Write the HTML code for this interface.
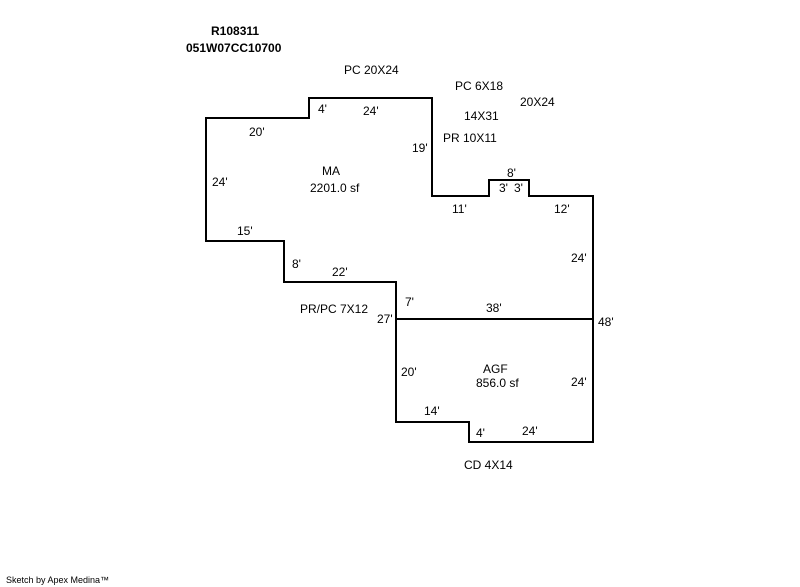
<!DOCTYPE html>
<html><head><style>
html,body{margin:0;padding:0;background:#fff;}
svg{display:block;}
text{font-family:"Liberation Sans",Arial,sans-serif;font-size:12px;fill:#000;}
</style></head><body>
<svg width="800" height="587" viewBox="0 0 800 587" xmlns="http://www.w3.org/2000/svg">
<polygon points="206,118 309,118 309,98 432,98 432,196 489,196 489,180 529,180 529,196 593,196 593,442 469,442 469,422 396,422 396,282 284,282 284,241 206,241" fill="none" stroke="#000" stroke-width="2"/>
<line x1="396" y1="319" x2="593" y2="319" stroke="#000" stroke-width="2"/>
<text x="211" y="35" style="font-weight:bold">R108311</text>
<text x="186" y="52" style="font-weight:bold">051W07CC10700</text>
<text x="344" y="74">PC 20X24</text>
<text x="455" y="90">PC 6X18</text>
<text x="520" y="106">20X24</text>
<text x="464" y="120">14X31</text>
<text x="443" y="142">PR 10X11</text>
<text x="318" y="113">4'</text>
<text x="363" y="115">24'</text>
<text x="249" y="136">20'</text>
<text x="412" y="152">19'</text>
<text x="322" y="175">MA</text>
<text x="310" y="192">2201.0 sf</text>
<text x="212" y="186">24'</text>
<text x="507" y="177">8'</text>
<text x="499" y="192">3'</text>
<text x="514" y="192">3'</text>
<text x="452" y="213">11'</text>
<text x="554" y="213">12'</text>
<text x="237" y="235">15'</text>
<text x="292" y="268">8'</text>
<text x="332" y="276">22'</text>
<text x="571" y="262">24'</text>
<text x="405" y="306">7'</text>
<text x="486" y="312">38'</text>
<text x="300" y="313">PR/PC 7X12</text>
<text x="377" y="323">27'</text>
<text x="598" y="326">48'</text>
<text x="401" y="376">20'</text>
<text x="483" y="373">AGF</text>
<text x="476" y="387">856.0 sf</text>
<text x="571" y="386">24'</text>
<text x="424" y="415">14'</text>
<text x="522" y="435">24'</text>
<text x="476" y="437">4'</text>
<text x="464" y="469">CD 4X14</text>
<text x="6" y="583" style="font-size:9px">Sketch by Apex Medina™</text>
</svg>
</body></html>
